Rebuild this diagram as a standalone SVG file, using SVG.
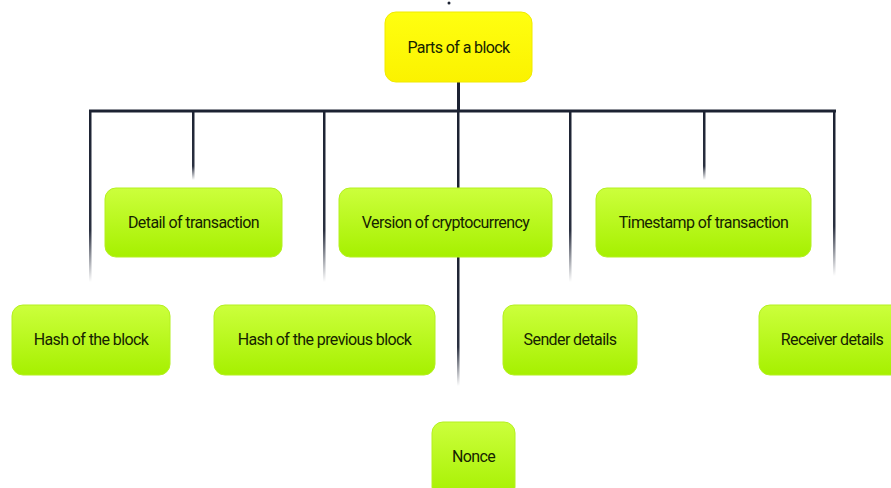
<svg xmlns="http://www.w3.org/2000/svg" width="891" height="488" viewBox="0 0 891 488">
<defs>
<linearGradient id="lime" x1="0" y1="0" x2="0" y2="1">
<stop offset="0" stop-color="#ccff3c"/>
<stop offset="1" stop-color="#a6f000"/>
</linearGradient>
<linearGradient id="yel" x1="0" y1="0" x2="0" y2="1">
<stop offset="0" stop-color="#ffff10"/>
<stop offset="1" stop-color="#fbf200"/>
</linearGradient>
<linearGradient id="fade" x1="0" y1="0" x2="0" y2="1">
<stop offset="0" stop-color="#1c2232"/>
<stop offset="0.7" stop-color="#2a3040"/>
<stop offset="1" stop-color="#2a3040" stop-opacity="0"/>
</linearGradient>
<linearGradient id="fadeShort" x1="0" y1="0" x2="0" y2="1">
<stop offset="0" stop-color="#1c2232"/>
<stop offset="0.8" stop-color="#2a3040"/>
<stop offset="1" stop-color="#2a3040" stop-opacity="0"/>
</linearGradient>
</defs>
<style>
.box{fill:url(#lime);stroke:#b4f020;stroke-width:1}
.root{fill:url(#yel);stroke:#f0ea00;stroke-width:1}
text{font-family:Roboto,"Liberation Sans",sans-serif;font-size:16px;fill:#162400;text-anchor:middle;dominant-baseline:central;letter-spacing:-0.6px}
.ln{fill:#1c2232}
</style>
<rect width="891" height="488" fill="#ffffff"/>
<circle cx="449" cy="3" r="1.5" fill="#1c2232"/>
<g id="connectors">
<rect class="ln" x="457" y="82" width="3" height="30"/>
<rect class="ln" x="89" y="109.5" width="747" height="3"/>
<rect x="89" y="110" width="2.5" height="172" fill="url(#fade)"/>
<rect x="192" y="110" width="2.5" height="70" fill="url(#fadeShort)"/>
<rect x="323" y="110" width="2.5" height="172" fill="url(#fade)"/>
<rect x="457" y="110" width="2.5" height="80" fill="#1c2232"/>
<rect x="457" y="256" width="2.5" height="130" fill="url(#fade)"/>
<rect x="569" y="110" width="2.5" height="172" fill="url(#fade)"/>
<rect x="703" y="110" width="2.5" height="70" fill="url(#fadeShort)"/>
<rect x="833" y="110" width="2.5" height="166" fill="url(#fade)"/>
</g>
<g id="root">
<rect class="root" x="385" y="12" width="147" height="70" rx="11"/>
<text x="458.5" y="47">Parts of a block</text>
</g>
<g id="detail">
<rect class="box" x="105" y="188" width="177" height="69" rx="11"/>
<text x="193.5" y="222">Detail of transaction</text>
</g>
<g id="version">
<rect class="box" x="339" y="188" width="213" height="69" rx="11"/>
<text x="445.5" y="222">Version of cryptocurrency</text>
</g>
<g id="timestamp">
<rect class="box" x="596" y="188" width="215" height="69" rx="11"/>
<text x="703.5" y="222">Timestamp of transaction</text>
</g>
<g id="hash">
<rect class="box" x="12" y="305" width="158" height="70" rx="11"/>
<text x="91" y="339">Hash of the block</text>
</g>
<g id="prevhash">
<rect class="box" x="214" y="305" width="221" height="70" rx="11"/>
<text x="324.5" y="339">Hash of the previous block</text>
</g>
<g id="sender">
<rect class="box" x="503" y="305" width="134" height="70" rx="11"/>
<text x="570" y="339">Sender details</text>
</g>
<g id="receiver">
<rect class="box" x="759" y="305" width="150" height="70" rx="11"/>
<text x="832" y="339">Receiver details</text>
</g>
<g id="nonce">
<rect class="box" x="432" y="422" width="83" height="76" rx="11"/>
<text x="473.5" y="456">Nonce</text>
</g>
</svg>
